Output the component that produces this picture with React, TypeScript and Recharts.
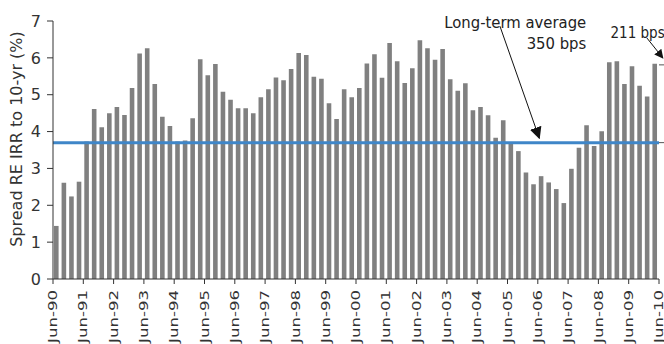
import { BarChart, Bar, XAxis, YAxis, ReferenceLine, ReferenceDot } from "recharts";

// quarterly spread, Jun-90 .. Mar-10
const spread = [
  1.44, 2.61, 2.24, 2.64, 3.73, 4.61, 4.12, 4.5, 4.67, 4.45,
  5.18, 6.12, 6.26, 5.29, 4.4, 4.15, 3.73, 3.76, 4.36, 5.96,
  5.53, 5.83, 5.08, 4.86, 4.63, 4.63, 4.5, 4.93, 5.15, 5.47,
  5.39, 5.7, 6.13, 6.08, 5.49, 5.43, 4.77, 4.34, 5.15, 4.93,
  5.18, 5.85, 6.1, 5.46, 6.4, 5.91, 5.32, 5.72, 6.48, 6.26,
  5.95, 6.24, 5.42, 5.11, 5.31, 4.58, 4.67, 4.44, 3.83, 4.31,
  3.68, 3.47, 2.89, 2.57, 2.79, 2.62, 2.44, 2.06, 2.99, 3.56,
  4.17, 3.61, 4.01, 5.88, 5.91, 5.29, 5.77, 5.24, 4.95, 5.84,
];

const tickLabels = [
  "Jun-90", "Jun-91", "Jun-92", "Jun-93", "Jun-94", "Jun-95", "Jun-96",
  "Jun-97", "Jun-98", "Jun-99", "Jun-00", "Jun-01", "Jun-02", "Jun-03",
  "Jun-04", "Jun-05", "Jun-06", "Jun-07", "Jun-08", "Jun-09", "Jun-10",
];

const yTicks = [0, 1, 2, 3, 4, 5, 6, 7];
const longTermAvg = 3.7;
const latest = 5.81;

// bar i sits in the middle of quarter slot i
const rows = spread.map((v, i) => ({ pos: i + 0.5, spread: v }));
const xTicks = tickLabels.map((_, i) => i * 4);

const AXIS = "#333";
const FONT = "'DejaVu Sans', Verdana, sans-serif";
const NOTE_FONT = "'DejaVu Sans Condensed', 'DejaVu Sans', sans-serif";

const XTick = ({ x, y, payload }: any) => (
  <g transform={`translate(${x},${y + 4})`}>
    <text
      transform="rotate(-90) scale(1.38,1)"
      textAnchor="end"
      dominantBaseline="central"
      fontSize={12}
      fontFamily={FONT}
      fill={AXIS}
    >
      {tickLabels[payload.value / 4]}
    </text>
  </g>
);

const yLabel = (props: any) => {
  const vb = props.viewBox;
  const cx = vb.x + 16;
  const cy = vb.y + 118;
  return (
    <text
      x={cx}
      y={cy}
      transform={`rotate(-90, ${cx}, ${cy})`}
      textAnchor="middle"
      dominantBaseline="central"
      fontSize={16}
      fontFamily={FONT}
      fill={AXIS}
    >
      Spread RE IRR to 10-yr (%)
    </text>
  );
};

const note = (value: string, anchor: "start" | "end", size = 16.5) => (props: any) => (
  <text
    x={props.viewBox.x}
    y={props.viewBox.y}
    textAnchor={anchor}
    dominantBaseline="central"
    fontSize={size}
    fontFamily={NOTE_FONT}
    fill="#222"
  >
    {value}
  </text>
);

export default function App() {
  return (
    <div style={{ position: "absolute", left: 0, top: 0 }}>
      <BarChart width={664} height={344} data={rows} margin={{ top: 21, right: 5, bottom: 0, left: 0 }}>
        <defs>
          <marker id="headBig" markerWidth="12" markerHeight="12" refX="11" refY="6" orient="auto" markerUnits="userSpaceOnUse">
            <path d="M0,0 L12,6 L0,12 z" fill="#111" />
          </marker>
          <marker id="headSmall" markerWidth="9" markerHeight="9" refX="8" refY="4.5" orient="auto" markerUnits="userSpaceOnUse">
            <path d="M0,0 L9,4.5 L0,9 z" fill="#111" />
          </marker>
        </defs>
        <XAxis
          dataKey="pos"
          type="number"
          domain={[0, 80]}
          ticks={xTicks}
          interval={0}
          height={65}
          tick={<XTick />}
          tickSize={5}
          axisLine={{ stroke: AXIS }}
          tickLine={{ stroke: AXIS }}
        />
        <YAxis
          domain={[0, 7]}
          ticks={yTicks}
          width={53}
          tickSize={6}
          tickMargin={6}
          axisLine={{ stroke: AXIS }}
          tickLine={{ stroke: AXIS }}
          tick={{ fontSize: 16, fontFamily: FONT, fill: AXIS }}
          label={yLabel}
        />
        <Bar dataKey="spread" fill="#808080" barSize={4.6} isAnimationActive={false} />
        <ReferenceLine y={longTermAvg} stroke="#3f86c8" strokeWidth={3} />
        <ReferenceLine
          segment={[{ x: 80, y: latest }, { x: 80.7, y: latest }]}
          stroke="#555"
          ifOverflow="visible"
        />
        <ReferenceLine
          segment={[{ x: 80, y: longTermAvg }, { x: 80.7, y: longTermAvg }]}
          stroke="#555"
          ifOverflow="visible"
        />
        <ReferenceLine
          segment={[{ x: 59.0, y: 6.86 }, { x: 64.2, y: 3.82 }]}
          stroke="#111"
          strokeWidth={1}
          markerEnd="url(#headBig)"
          ifOverflow="visible"
        />
        <ReferenceLine
          segment={[{ x: 78.4, y: 6.54 }, { x: 80.5, y: 6.0 }]}
          stroke="#111"
          strokeWidth={1}
          markerEnd="url(#headSmall)"
          ifOverflow="visible"
        />
        <ReferenceDot x={70.4} y={6.95} r={0} ifOverflow="visible" label={note("Long-term average", "end")} />
        <ReferenceDot x={70.4} y={6.4} r={0} ifOverflow="visible" label={note("350 bps", "end")} />
        <ReferenceDot x={73.6} y={6.67} r={0} ifOverflow="visible" label={note("211 bps", "start", 15)} />
      </BarChart>
    </div>
  );
}
